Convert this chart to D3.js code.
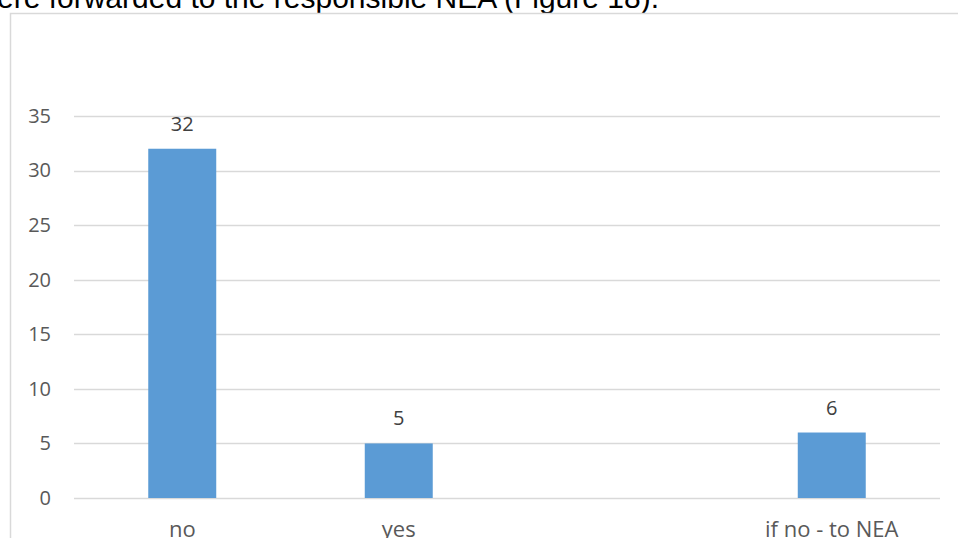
<!DOCTYPE html>
<html>
<head>
<meta charset="utf-8">
<script src="https://cdn.jsdelivr.net/npm/d3@7"></script>
<style>
html,body{margin:0;padding:0;background:#fff;overflow:hidden;}
svg{display:block;}
</style>
</head>
<body>
<svg id="chart" width="958" height="538"></svg>
<script>
const categories = ["no", "yes", "", "if no - to NEA"];
const values = [32, 5, null, 6];
const yTicks = [0, 5, 10, 15, 20, 25, 30, 35];
const headerText = "ere forwarded to the responsible NEA (Figure 18).";

(function () {
const svg = d3.select("#chart");
const W = 958, H = 538;
const pLeft = 74, pRight = 940, pTop = 116, pBottom = 498;
const font = "'Open Sans', 'Noto Sans', sans-serif";

// header text (cut-off body text)
svg.append("text")
  .attr("x", -3).attr("y", 8)
  .attr("font-family", "'Liberation Sans', Arial, sans-serif")
  .attr("font-size", 30)
  .attr("fill", "#000")
  .text(headerText);

// chart frame border
svg.append("path")
  .attr("d", `M10.5,${H+2} L10.5,13.5 L${W+2},13.5`)
  .attr("fill", "none")
  .attr("stroke", "#d9d9d9")
  .attr("stroke-width", 1.5);

const x = d3.scaleBand().domain(d3.range(categories.length)).range([pLeft, pRight])
  .paddingInner(0.686).paddingOuter(0.343);
const y = d3.scaleLinear().domain([0, 35]).range([pBottom, pTop]);

// gridlines
svg.append("g").selectAll("line").data(yTicks).join("line")
  .attr("x1", pLeft).attr("x2", pRight)
  .attr("y1", d => Math.round(y(d)) + 0.5).attr("y2", d => Math.round(y(d)) + 0.5)
  .attr("stroke", "#d9d9d9").attr("stroke-width", 1.3);

// y axis labels
const yAxis = d3.axisLeft(y).tickValues(yTicks).tickSize(0).tickPadding(0);
const gy = svg.append("g").attr("transform", `translate(51,0)`).call(yAxis);
gy.select(".domain").remove();
gy.selectAll("text")
  .attr("font-family", font).attr("font-size", 20).attr("fill", "#595959");

// bars
const data = categories.map((c, i) => ({i, c, v: values[i]})).filter(d => d.v != null);
svg.append("g").selectAll("rect").data(data).join("rect")
  .attr("x", d => x(d.i))
  .attr("width", x.bandwidth())
  .attr("y", d => y(d.v))
  .attr("height", d => y(0) - y(d.v))
  .attr("fill", "#5b9bd5");

// value labels
svg.append("g").selectAll("text").data(data).join("text")
  .attr("x", d => x(d.i) + x.bandwidth() / 2)
  .attr("y", d => y(d.v) - 18)
  .attr("text-anchor", "middle")
  .attr("font-family", font).attr("font-size", 20).attr("fill", "#404040")
  .text(d => d.v);

// x axis labels
const xAxis = d3.axisBottom(x).tickFormat(i => categories[i]).tickSize(0).tickPadding(0);
const gx = svg.append("g").attr("transform", `translate(0,${pBottom})`).call(xAxis);
gx.select(".domain").remove();
gx.selectAll("text")
  .attr("dy", null).attr("y", 38.5)
  .attr("font-family", font).attr("font-size", 22).attr("fill", "#595959");
})();
</script>
</body>
</html>
